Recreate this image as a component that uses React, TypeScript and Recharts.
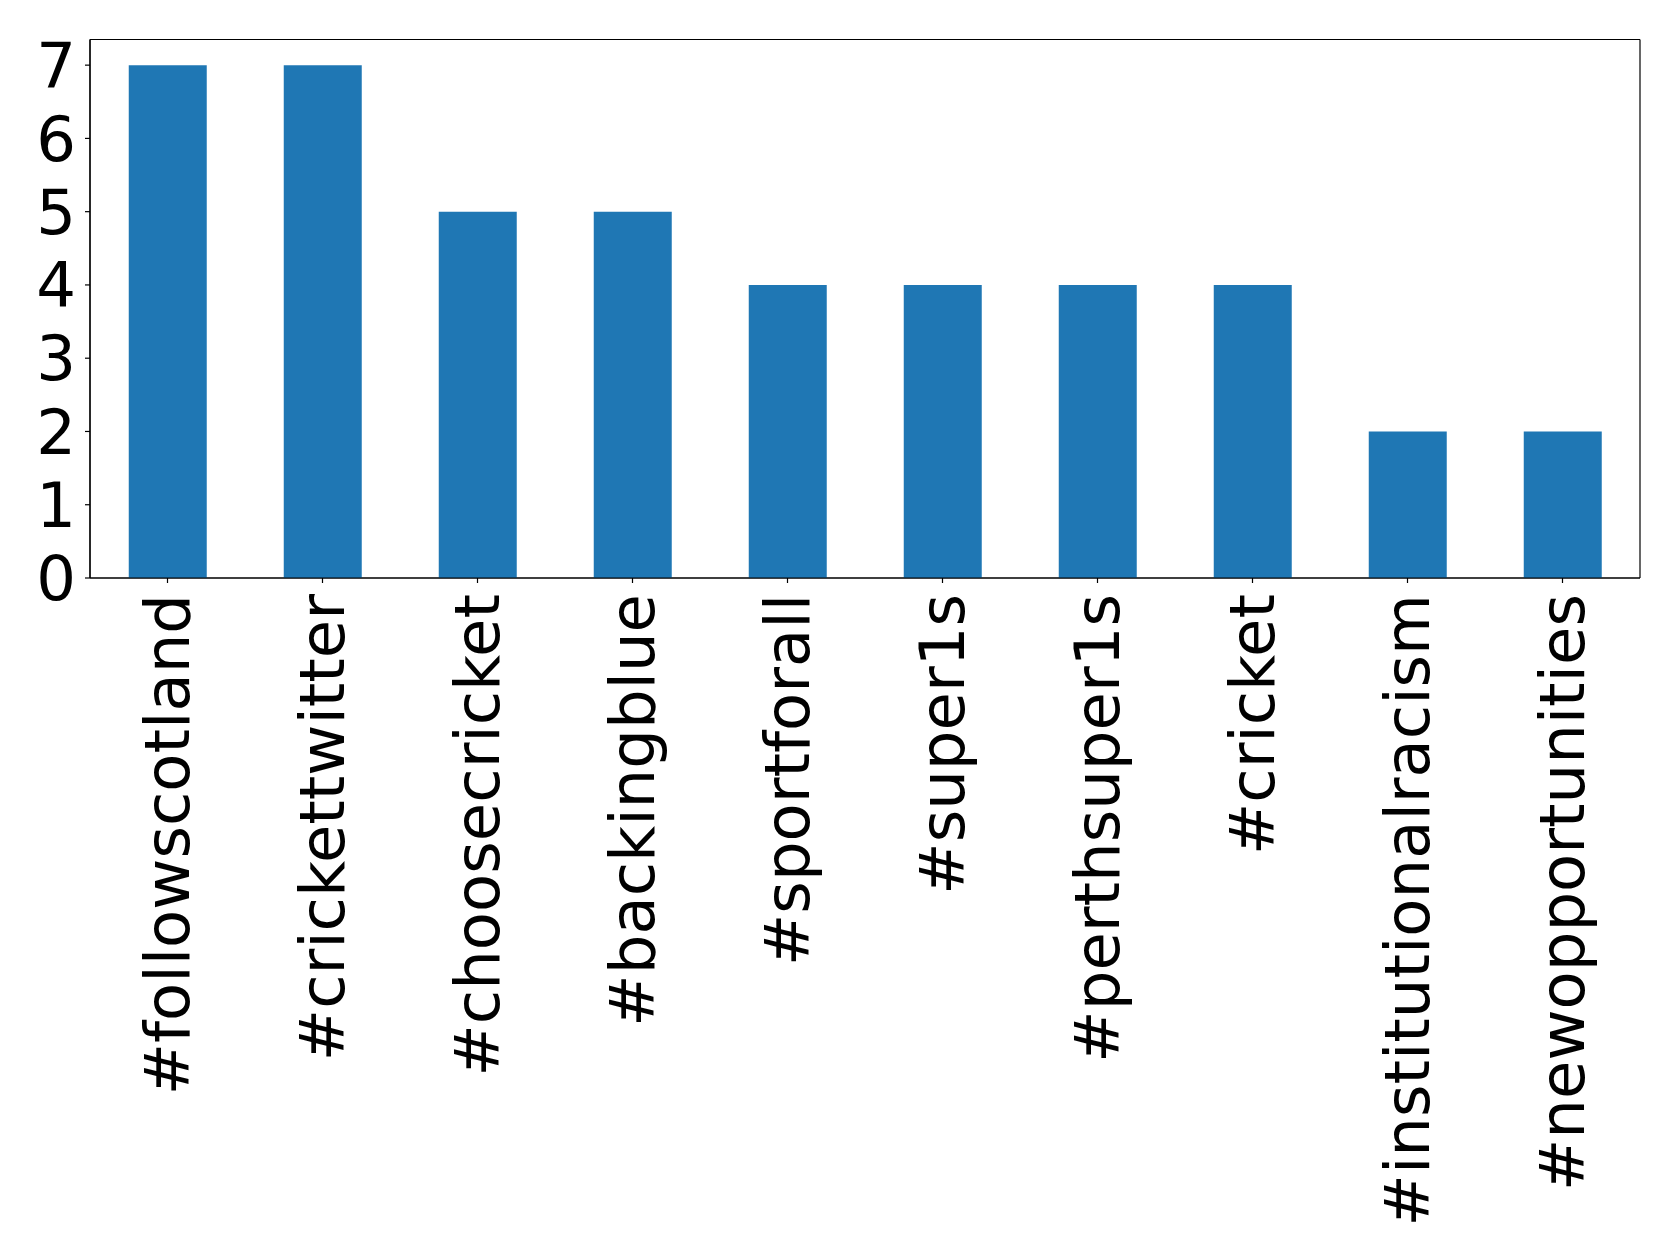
import React from "react";
import { BarChart, Bar, XAxis, YAxis, CartesianGrid } from "recharts";

const tags = [
  "#followscotland",
  "#crickettwitter",
  "#choosecricket",
  "#backingblue",
  "#sportforall",
  "#super1s",
  "#perthsuper1s",
  "#cricket",
  "#institutionalracism",
  "#newopportunities",
];
const counts = [7, 7, 5, 5, 4, 4, 4, 4, 2, 2];
const yTicks = [0, 1, 2, 3, 4, 5, 6, 7];

const data = tags.map((tag, i) => ({ tag, count: counts[i] }));

const FONT = "DejaVu Sans";
const axisStroke = { stroke: "#000", strokeWidth: 1.2 };

function XTick(props: any) {
  const { x, payload } = props;
  return (
    <text
      transform={`translate(${x},${594}) rotate(-90)`}
      textAnchor="end"
      dominantBaseline="central"
      fontFamily={FONT}
      fontSize={62.5}
      fill="#000"
    >
      {payload.value}
    </text>
  );
}

// frame around the plot area (matplotlib style box)
const frameH = ({ offset }: any) => [offset.top, offset.top + offset.height];
const frameV = ({ offset }: any) => [offset.left, offset.left + offset.width];

export default function App() {
  return (
    <div style={{ position: "absolute", left: 0, top: 0, background: "#fff" }}>
      <BarChart
        width={1679}
        height={1260}
        data={data}
        barCategoryGap="25%"
        margin={{ top: 39.5, right: 39, bottom: 0, left: 0 }}
      >
        <CartesianGrid
          stroke="#000"
          strokeWidth={1.2}
          strokeDasharray=""
          horizontalCoordinatesGenerator={frameH}
          verticalCoordinatesGenerator={frameV}
        />
        <XAxis
          dataKey="tag"
          interval={0}
          height={682}
          tick={<XTick />}
          tickSize={5}
          tickLine={axisStroke}
          axisLine={axisStroke}
        />
        <YAxis
          width={90}
          domain={[0, 7.35]}
          ticks={yTicks}
          interval={0}
          tickSize={5}
          tickMargin={9}
          tickLine={axisStroke}
          axisLine={axisStroke}
          tick={{ fontSize: 62.5, fill: "#000", fontFamily: FONT }}
        />
        <Bar dataKey="count" fill="#1f77b4" isAnimationActive={false} />
      </BarChart>
    </div>
  );
}
